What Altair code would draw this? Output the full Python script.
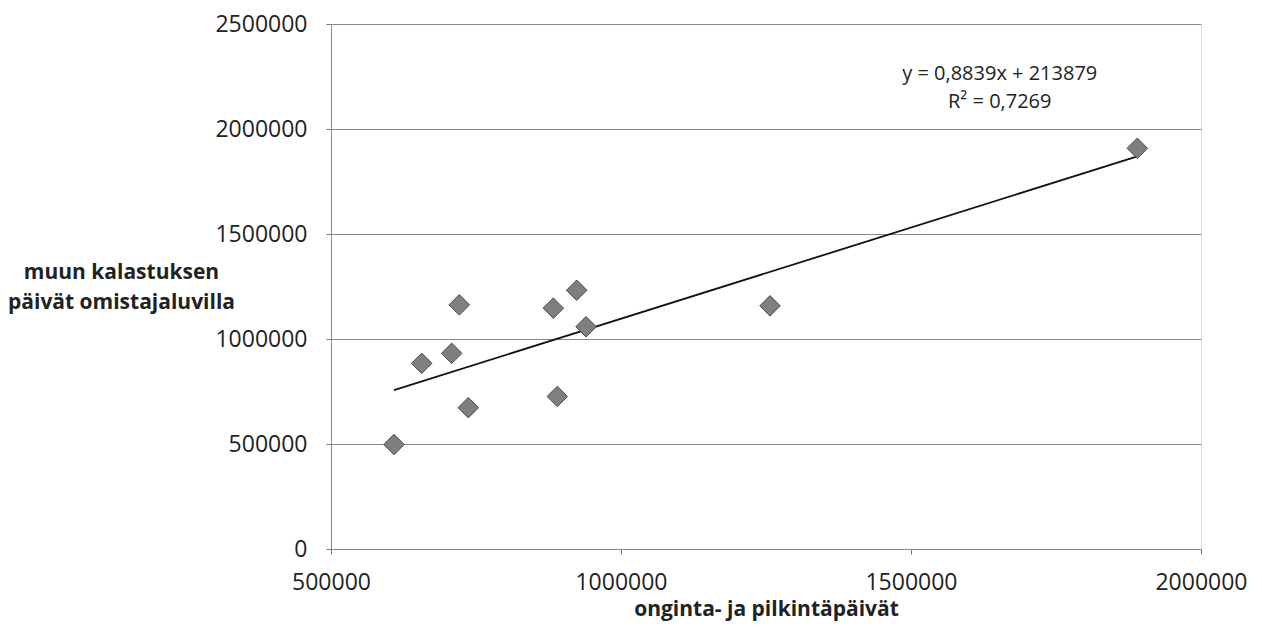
import altair as alt
import pandas as pd

# Data
onginta = [608600, 656400, 708100, 721200, 736700, 883300, 890200, 923600, 939700, 1256900, 1890200]
muu = [497600, 884000, 931700, 1162600, 673000, 1146900, 726500, 1232200, 1058300, 1157800, 1908000]

x_ticks = [500000, 1000000, 1500000, 2000000]
y_ticks = [0, 500000, 1000000, 1500000, 2000000, 2500000]

eq_text = ["y = 0,8839x + 213879", "R² = 0,7269"]
eq_x = [1653000, 1653000]
eq_y = [2262000, 2127000]

df = pd.DataFrame({"x": onginta, "y": muu})
ann = pd.DataFrame({"t": eq_text, "x": eq_x, "y": eq_y})

FONT = "Open Sans"

xs = alt.Scale(domain=[500000, 2000000], nice=False, zero=False)
ys = alt.Scale(domain=[0, 2500000], nice=False)

xaxis = alt.Axis(
    values=x_ticks, format="d", grid=False, domain=False,
    ticks=True, tickSize=5, tickColor="#777777",
    labelFont=FONT, labelFontSize=23, labelColor="#222222", labelPadding=17,
    labelFlush=False,
    title="onginta- ja pilkintäpäivät", titleFont=FONT, titleFontSize=21,
    titleFontWeight="bold", titleColor="#222222",
    titleY=66, titleBaseline="alphabetic",
)
yaxis = alt.Axis(
    values=y_ticks, format="d", grid=True, gridColor="#8a8a8a", gridWidth=1,
    domain=True, domainColor="#8a8a8a",
    ticks=True, tickSize=5, tickColor="#777777",
    labelFont=FONT, labelFontSize=23, labelColor="#222222", labelPadding=19,
    title=["muun kalastuksen", "päivät omistajaluvilla"], titleFont=FONT,
    titleFontSize=21, titleFontWeight="bold", titleColor="#222222",
    titleAngle=0, titleAlign="center", titleBaseline="alphabetic",
    titleX=-210, titleY=254, titleLineHeight=30,
)

base = alt.Chart(df)

points = base.mark_point(
    shape="diamond", filled=True, size=420, fill="#7f7f7f",
    stroke="#4a4a4a", strokeWidth=1, opacity=1,
).encode(
    x=alt.X("x:Q", scale=xs, axis=xaxis),
    y=alt.Y("y:Q", scale=ys, axis=yaxis),
)

trend = base.transform_regression("x", "y", method="linear").mark_line(
    color="#111111", strokeWidth=1.8
).encode(
    x=alt.X("x:Q", scale=xs),
    y=alt.Y("y:Q", scale=ys),
)

labels = alt.Chart(ann).mark_text(
    font=FONT, fontSize=20, color="#222222", align="center", baseline="middle"
).encode(
    x=alt.X("x:Q", scale=xs),
    y=alt.Y("y:Q", scale=ys),
    text="t:N",
)

chart = (trend + points + labels).properties(
    width=870, height=525,
    autosize=alt.AutoSizeParams(type="none"),
    padding={"left": 323, "top": 16, "right": 53, "bottom": 82},
).configure_view(stroke=None).configure(background="white")

chart.save("out.html", embed_options={"renderer": "svg", "actions": False})
